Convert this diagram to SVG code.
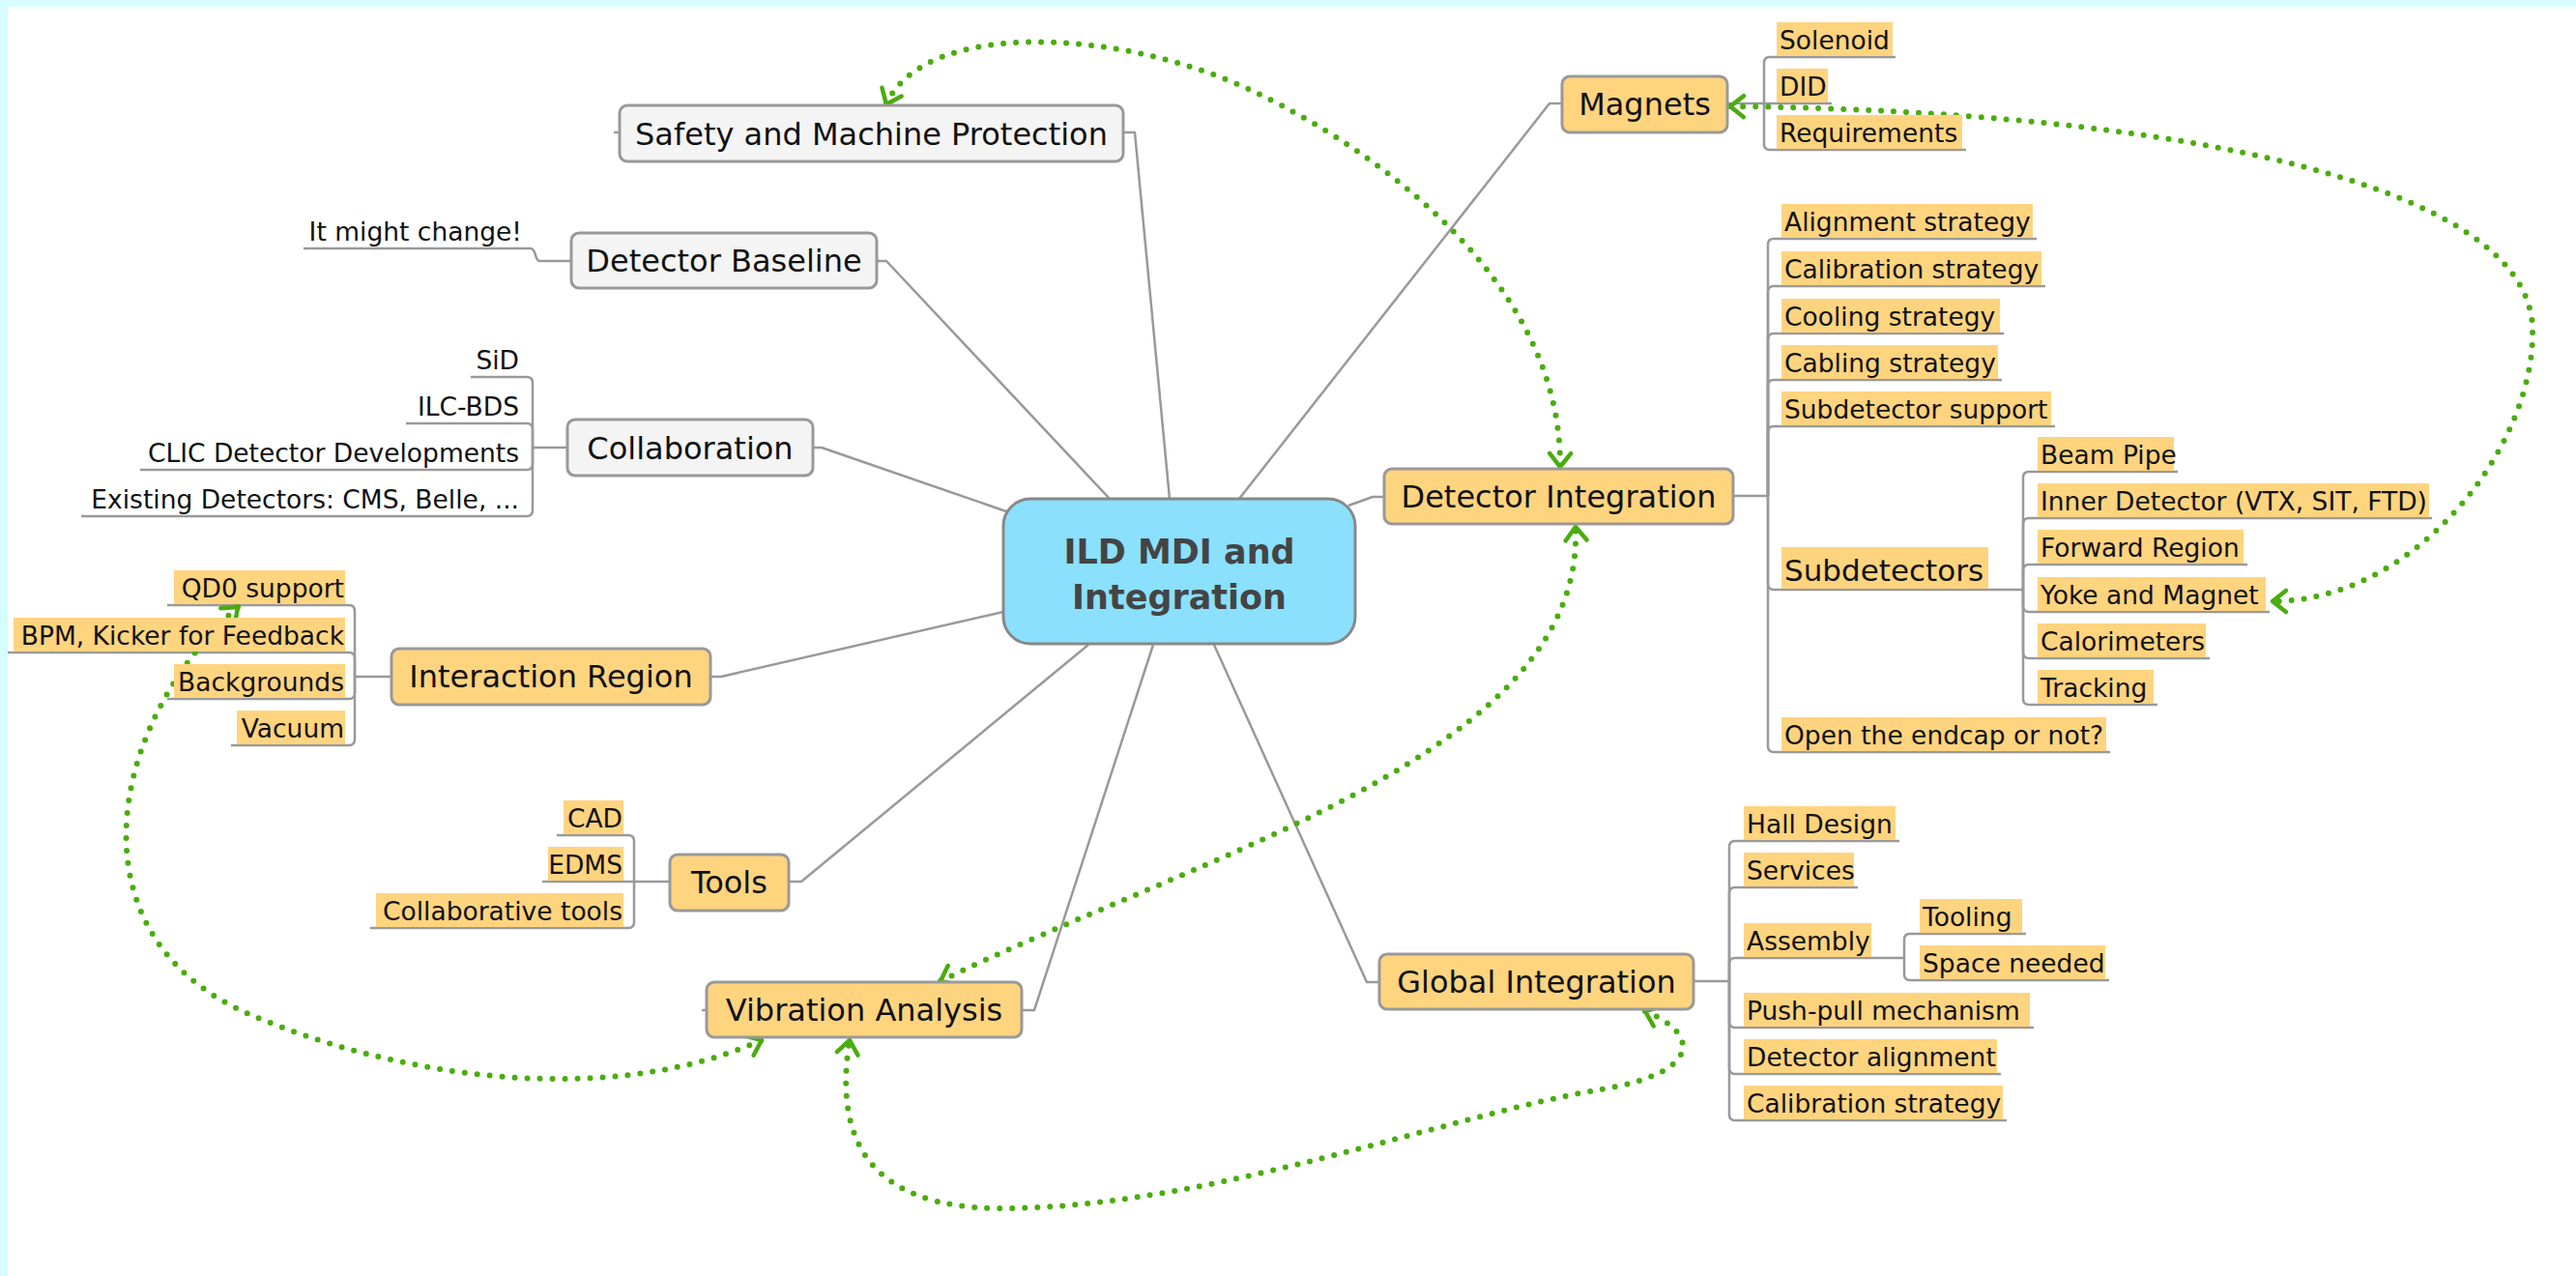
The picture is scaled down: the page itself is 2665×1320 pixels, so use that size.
<svg xmlns="http://www.w3.org/2000/svg" width="2665" height="1320" viewBox="0 0 2665 1320">
<style>
.ln{fill:none;stroke:#999;stroke-width:2.5;stroke-linejoin:round}
.box{fill:#ffd47f;stroke:#999;stroke-width:3}
.gbox{fill:#f4f4f4;stroke:#999;stroke-width:3}
.hl{fill:#ffd47f}
.mt{font-family:"DejaVu Sans",sans-serif;font-size:32px;fill:#111;text-anchor:middle}
.ct{font-family:"DejaVu Sans",sans-serif;font-size:35px;font-weight:bold;fill:#444;text-anchor:middle}
.st{font-family:"DejaVu Sans",sans-serif;font-size:26.5px;fill:#111}
.r{text-anchor:end}
.rel{fill:none;stroke:#4aac0e;stroke-width:6;stroke-linecap:round;stroke-dasharray:0 13;marker-start:url(#ah);marker-end:url(#ah)}
</style>
<defs>
<marker id="ah" markerUnits="userSpaceOnUse" viewBox="-18 -14 22 28" refX="0" refY="0" markerWidth="22" markerHeight="28" orient="auto-start-reverse" overflow="visible">
<path d="M-14,-11 L0,0 L-14,11" fill="none" stroke="#4aac0e" stroke-width="4.5" stroke-linecap="round" stroke-linejoin="round" stroke-dasharray="none"/>
</marker>
</defs>
<rect x="0" y="0" width="2665" height="1320" fill="#fff"/>
<rect x="0" y="0" width="2665" height="7" fill="#d5fdff"/>
<rect x="0" y="0" width="8" height="1320" fill="#d5fdff"/>

<g id="connectors">
<path class="ln" d="M1162,137 H1174 L1210,516"/>
<path class="ln" d="M907,270 H917 L1148,516"/>
<path class="ln" d="M841,463 H850 L1041,529"/>
<path class="ln" d="M735,700 H746 L1038,633"/>
<path class="ln" d="M816,912 H829 L1126,667"/>
<path class="ln" d="M1057,1045 H1070 L1193,667"/>
<path class="ln" d="M1427,1016 H1414 L1256,667"/>
<path class="ln" d="M1432,514 H1420 L1395,523"/>
<path class="ln" d="M1616,107 H1603 L1282,516"/>
<path class="ln" d="M641,137 H635"/>
<path class="ln" d="M731,1045 H726"/>
<!-- Magnets -->
<path class="ln" d="M1787,107 H1825"/>
<path class="ln" d="M1825,107 V65 Q1825,59 1831,59 H1961"/>
<path class="ln" d="M1825,107 H1895"/>
<path class="ln" d="M1825,107 V149 Q1825,155 1831,155 H2034"/>
<!-- Detector Integration -->
<path class="ln" d="M1793,513 H1829"/>
<path class="ln" d="M1829,513 V253 Q1829,247 1835,247 H2107"/>
<path class="ln" d="M1829,513 V302 Q1829,296 1835,296 H2116"/>
<path class="ln" d="M1829,513 V351 Q1829,345 1835,345 H2073"/>
<path class="ln" d="M1829,513 V399 Q1829,393 1835,393 H2071"/>
<path class="ln" d="M1829,513 V447 Q1829,441 1835,441 H2126"/>
<path class="ln" d="M1829,513 V604 Q1829,610 1835,610 H2093"/>
<path class="ln" d="M1829,513 V772 Q1829,778 1835,778 H2183"/>
<!-- Subdetectors -->
<path class="ln" d="M2093,610 V494 Q2093,488 2099,488 H2253"/>
<path class="ln" d="M2093,610 V542 Q2093,536 2099,536 H2516"/>
<path class="ln" d="M2093,610 V590 Q2093,584 2099,584 H2325"/>
<path class="ln" d="M2093,610 V627 Q2093,633 2099,633 H2348"/>
<path class="ln" d="M2093,610 V675 Q2093,681 2099,681 H2286"/>
<path class="ln" d="M2093,610 V723 Q2093,729 2099,729 H2232"/>
<!-- Global Integration -->
<path class="ln" d="M1752,1015 H1789"/>
<path class="ln" d="M1789,1015 V876 Q1789,870 1795,870 H1965"/>
<path class="ln" d="M1789,1015 V924 Q1789,918 1795,918 H1922"/>
<path class="ln" d="M1789,1015 V997 Q1789,991 1795,991 H1970"/>
<path class="ln" d="M1789,1015 V1057 Q1789,1063 1795,1063 H2104"/>
<path class="ln" d="M1789,1015 V1105 Q1789,1111 1795,1111 H2070"/>
<path class="ln" d="M1789,1015 V1153 Q1789,1159 1795,1159 H2076"/>
<path class="ln" d="M1970,991 V972 Q1970,966 1976,966 H2096"/>
<path class="ln" d="M1970,991 V1008 Q1970,1014 1976,1014 H2182"/>
<!-- Interaction Region -->
<path class="ln" d="M405,700 H367"/>
<path class="ln" d="M367,700 V632 Q367,626 361,626 H173"/>
<path class="ln" d="M367,700 V681 Q367,675 361,675 H8"/>
<path class="ln" d="M367,700 V717 Q367,723 361,723 H173"/>
<path class="ln" d="M367,700 V765 Q367,771 361,771 H239"/>
<!-- Tools -->
<path class="ln" d="M693,912 H656"/>
<path class="ln" d="M656,912 V870 Q656,864 650,864 H576"/>
<path class="ln" d="M656,912 H561"/>
<path class="ln" d="M656,912 V954 Q656,960 650,960 H383"/>
<!-- Collaboration -->
<path class="ln" d="M587,463 H551"/>
<path class="ln" d="M551,463 V396 Q551,390 545,390 H487"/>
<path class="ln" d="M551,463 V444 Q551,438 545,438 H420"/>
<path class="ln" d="M551,463 V480 Q551,486 545,486 H145"/>
<path class="ln" d="M551,463 V528 Q551,534 545,534 H84"/>
<!-- Detector Baseline -->
<path class="ln" d="M591,270 H558 C553,270 555,257 549,257 H314"/>
</g>

<g id="relationships">
<path class="rel" d="M917,108 C955,20 1160,28 1300,96 C1440,164 1616,300 1614,483"/>
<path class="rel" d="M1790,110 C2250,115 2615,190 2620,339 C2624,460 2500,622 2351,622"/>
<path class="rel" d="M973,1015 C1250,880 1640,780 1630,545"/>
<path class="rel" d="M246,628 C110,750 70,970 260,1050 C400,1110 620,1150 788,1076"/>
<path class="rel" d="M1702,1046 C1760,1070 1760,1110 1656,1127 C1500,1153 1250,1250 1036,1250 C900,1250 862,1180 879,1076"/>
</g>

<g id="central">
<rect x="1038" y="516" width="364" height="150" rx="28" fill="#8ae0fd" stroke="#888" stroke-width="3"/>
<text class="ct" x="1220" y="583">ILD MDI and</text>
<text class="ct" x="1220" y="630">Integration</text>
</g>

<g id="safety"><rect class="gbox" x="641" y="109" width="521" height="58" rx="8"/><text class="mt" x="901.5" y="150">Safety and Machine Protection</text></g>
<g id="baseline"><rect class="gbox" x="591" y="241" width="316" height="57" rx="8"/><text class="mt" x="749" y="281">Detector Baseline</text></g>
<g id="baseline-change"><text class="st r" x="540" y="249">It might change!</text></g>
<g id="collaboration"><rect class="gbox" x="587" y="434" width="254" height="58" rx="8"/><text class="mt" x="714" y="475">Collaboration</text></g>
<g id="collab-sid"><text class="st r" x="537" y="382">SiD</text></g>
<g id="collab-ilcbds"><text class="st r" x="537" y="430">ILC-BDS</text></g>
<g id="collab-clic"><text class="st r" x="537" y="478">CLIC Detector Developments</text></g>
<g id="collab-existing"><text class="st r" x="537" y="526">Existing Detectors: CMS, Belle, ...</text></g>

<g id="ir"><rect class="box" x="405" y="671" width="330" height="58" rx="8"/><text class="mt" x="570" y="711">Interaction Region</text></g>
<g id="ir-qd0"><rect class="hl" x="180" y="590" width="177" height="35"/><text class="st r" x="356" y="618">QD0 support</text></g>
<g id="ir-bpm"><rect class="hl" x="14" y="639" width="343" height="35"/><text class="st r" x="356" y="667">BPM, Kicker for Feedback</text></g>
<g id="ir-bg"><rect class="hl" x="180" y="687" width="177" height="35"/><text class="st r" x="356" y="715">Backgrounds</text></g>
<g id="ir-vac"><rect class="hl" x="245" y="735" width="112" height="35"/><text class="st r" x="356" y="763">Vacuum</text></g>

<g id="tools"><rect class="box" x="693" y="884" width="123" height="58" rx="8"/><text class="mt" x="754.5" y="924">Tools</text></g>
<g id="tools-cad"><rect class="hl" x="583" y="828" width="62" height="35"/><text class="st r" x="644" y="856">CAD</text></g>
<g id="tools-edms"><rect class="hl" x="567" y="876" width="78" height="35"/><text class="st r" x="644" y="904">EDMS</text></g>
<g id="tools-collab"><rect class="hl" x="389" y="924" width="256" height="35"/><text class="st r" x="644" y="952">Collaborative tools</text></g>

<g id="vibration"><rect class="box" x="731" y="1016" width="326" height="57" rx="8"/><text class="mt" x="894" y="1056">Vibration Analysis</text></g>

<g id="magnets"><rect class="box" x="1616" y="79" width="171" height="58" rx="8"/><text class="mt" x="1701.5" y="119">Magnets</text></g>
<g id="mag-solenoid"><rect class="hl" x="1838" y="23" width="120" height="35"/><text class="st" x="1841" y="51">Solenoid</text></g>
<g id="mag-did"><rect class="hl" x="1838" y="71" width="53" height="35"/><text class="st" x="1841" y="99">DID</text></g>
<g id="mag-req"><rect class="hl" x="1838" y="119" width="192" height="35"/><text class="st" x="1841" y="147">Requirements</text></g>

<g id="detint"><rect class="box" x="1432" y="485" width="361" height="57" rx="8"/><text class="mt" x="1612.5" y="525">Detector Integration</text></g>
<g id="di-align"><rect class="hl" x="1843" y="211" width="260" height="35"/><text class="st" x="1846" y="239">Alignment strategy</text></g>
<g id="di-calib"><rect class="hl" x="1843" y="260" width="269" height="35"/><text class="st" x="1846" y="288">Calibration strategy</text></g>
<g id="di-cool"><rect class="hl" x="1843" y="309" width="226" height="35"/><text class="st" x="1846" y="337">Cooling strategy</text></g>
<g id="di-cable"><rect class="hl" x="1843" y="357" width="224" height="35"/><text class="st" x="1846" y="385">Cabling strategy</text></g>
<g id="di-support"><rect class="hl" x="1843" y="405" width="279" height="35"/><text class="st" x="1846" y="433">Subdetector support</text></g>
<g id="di-subdet"><rect class="hl" x="1843" y="566" width="214" height="43"/><text class="st" style="font-size:31px" x="1846" y="601">Subdetectors</text></g>
<g id="di-endcap"><rect class="hl" x="1843" y="742" width="336" height="35"/><text class="st" x="1846" y="770">Open the endcap or not?</text></g>
<g id="sd-beampipe"><rect class="hl" x="2108" y="452" width="141" height="35"/><text class="st" x="2111" y="480">Beam Pipe</text></g>
<g id="sd-inner"><rect class="hl" x="2108" y="500" width="405" height="35"/><text class="st" x="2111" y="528">Inner Detector (VTX, SIT, FTD)</text></g>
<g id="sd-forward"><rect class="hl" x="2108" y="548" width="213" height="35"/><text class="st" x="2111" y="576">Forward Region</text></g>
<g id="sd-yoke"><rect class="hl" x="2108" y="597" width="236" height="35"/><text class="st" x="2111" y="625">Yoke and Magnet</text></g>
<g id="sd-calo"><rect class="hl" x="2108" y="645" width="174" height="35"/><text class="st" x="2111" y="673">Calorimeters</text></g>
<g id="sd-tracking"><rect class="hl" x="2108" y="693" width="120" height="35"/><text class="st" x="2111" y="721">Tracking</text></g>

<g id="globint"><rect class="box" x="1427" y="987" width="325" height="57" rx="8"/><text class="mt" x="1589.5" y="1027">Global Integration</text></g>
<g id="gi-hall"><rect class="hl" x="1804" y="834" width="157" height="35"/><text class="st" x="1807" y="862">Hall Design</text></g>
<g id="gi-services"><rect class="hl" x="1804" y="882" width="114" height="35"/><text class="st" x="1807" y="910">Services</text></g>
<g id="gi-assembly"><rect class="hl" x="1804" y="955" width="132" height="35"/><text class="st" x="1807" y="983">Assembly</text></g>
<g id="gi-tooling"><rect class="hl" x="1986" y="930" width="106" height="35"/><text class="st" x="1989" y="958">Tooling</text></g>
<g id="gi-space"><rect class="hl" x="1986" y="978" width="192" height="35"/><text class="st" x="1989" y="1006">Space needed</text></g>
<g id="gi-pushpull"><rect class="hl" x="1804" y="1027" width="296" height="35"/><text class="st" x="1807" y="1055">Push-pull mechanism</text></g>
<g id="gi-align"><rect class="hl" x="1804" y="1075" width="262" height="35"/><text class="st" x="1807" y="1103">Detector alignment</text></g>
<g id="gi-calib"><rect class="hl" x="1804" y="1123" width="268" height="35"/><text class="st" x="1807" y="1151">Calibration strategy</text></g>
</svg>
